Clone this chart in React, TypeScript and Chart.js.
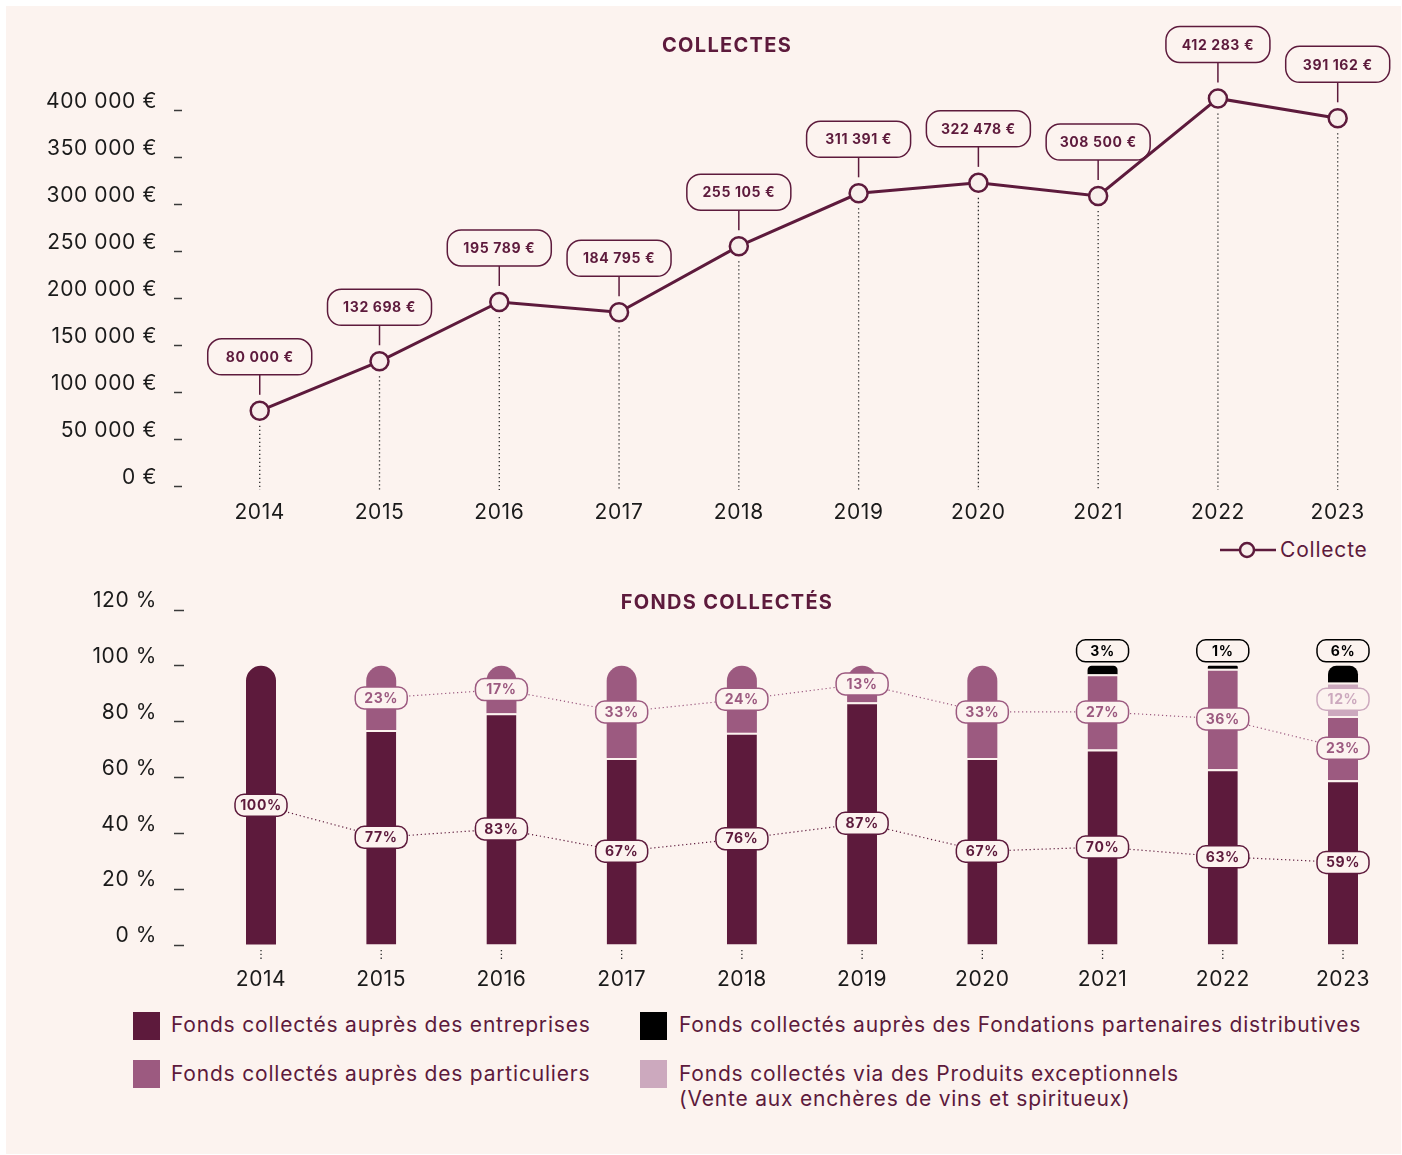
import React, { useEffect, useRef } from 'react';
import { Chart, registerables } from 'chart.js';

Chart.register(...registerables);

// ---------- DATA ----------
const years = [2014, 2015, 2016, 2017, 2018, 2019, 2020, 2021, 2022, 2023];
const collecte = [80000, 132698, 195789, 184795, 255105, 311391, 322478, 308500, 412283, 391162];
const euroTicks = [0, 50000, 100000, 150000, 200000, 250000, 300000, 350000, 400000];

const entreprises = [100, 77, 83, 67, 76, 87, 67, 70, 63, 59];
const particuliers = [0, 23, 17, 33, 24, 13, 33, 27, 36, 23];
const produits = [0, 0, 0, 0, 0, 0, 0, 0, 0, 12];
const fondations = [0, 0, 0, 0, 0, 0, 0, 3, 1, 6];
const percentTicks = [0, 20, 40, 60, 80, 100, 120];

const seriesNames = [
  'Fonds collectés auprès des entreprises',
  'Fonds collectés auprès des particuliers',
  'Fonds collectés via des Produits exceptionnels',
  'Fonds collectés auprès des Fondations partenaires distributives',
];
const produitsNote = '(Vente aux enchères de vins et spiritueux)';
const topTitle = 'COLLECTES';
const bottomTitle = 'FONDS COLLECTÉS';
const lineLabel = 'Collecte';

// ---------- STYLE ----------
const DARK = '#5d1a3c';
const MED = '#9c5a80';
const LIGHT = '#cca9be';
const BLACK = '#000000';
const BG = '#fcf3ef';
const POINT_FILL = '#f8eeeb';
const AXIS_TEXT = '#1a1a1a';
const FONT = "Inter, 'Noto Sans', sans-serif";
const CANVAS_SPACING = '0.6px';

const fmtEuro = (v: number) => String(v).replace(/\B(?=(\d{3})+(?!\d))/g, ' ') + ' €';

const series = [entreprises, particuliers, produits, fondations];
const seriesColors = [DARK, MED, LIGHT, BLACK];

const X_MIN = 2013.351;
const X_MAX = 2023.4325;

// ---------- PLUGINS ----------
const spacingPlugin = {
  id: 'spacing',
  beforeDraw(chart: any) {
    chart.ctx.letterSpacing = CANVAS_SPACING;
  },
};

const topLabelsPlugin = {
  id: 'topLabels',
  beforeDatasetsDraw(chart: any) {
    const { ctx, chartArea } = chart;
    const meta = chart.getDatasetMeta(0);
    ctx.save();
    meta.data.forEach((pt: any, i: number) => {
      const x = pt.x;
      const y = pt.y;
      // dotted drop line
      ctx.strokeStyle = '#2b2b2b';
      ctx.lineWidth = 1.3;
      ctx.setLineDash([1.3, 2.7]);
      ctx.beginPath();
      ctx.moveTo(x, y + 15);
      ctx.lineTo(x, chartArea.bottom + 4);
      ctx.stroke();
      ctx.setLineDash([]);
      // connector
      ctx.strokeStyle = DARK;
      ctx.lineWidth = 1.5;
      ctx.beginPath();
      ctx.moveTo(x, y - 16);
      ctx.lineTo(x, y - 36);
      ctx.stroke();
      // box
      ctx.beginPath();
      ctx.roundRect(x - 52, y - 72, 104, 36, 14);
      ctx.fillStyle = BG;
      ctx.fill();
      ctx.stroke();
      ctx.fillStyle = DARK;
      ctx.font = `bold 14px ${FONT}`;
      ctx.textAlign = 'center';
      ctx.textBaseline = 'middle';
      ctx.fillText(fmtEuro(collecte[i]), x, y - 53);
    });
    ctx.restore();
  },
};

const bottomLabelsPlugin = {
  id: 'bottomLabels',
  afterDatasetsDraw(chart: any) {
    const { ctx, chartArea, scales } = chart;
    ctx.save();
    // dotted ticks under bars
    ctx.strokeStyle = '#2b2b2b';
    ctx.lineWidth = 1.3;
    ctx.setLineDash([1.3, 2.5]);
    years.forEach((yr) => {
      const x = scales.x.getPixelForValue(yr);
      ctx.beginPath();
      ctx.moveTo(x, chartArea.bottom + 5);
      ctx.lineTo(x, chartArea.bottom + 15);
      ctx.stroke();
    });
    // dotted connecting lines
    [0, 1].forEach((d) => {
      const meta = chart.getDatasetMeta(d);
      const pts: { x: number; y: number }[] = [];
      meta.data.forEach((el: any, i: number) => {
        if (series[d][i] > 0) pts.push({ x: el.x, y: (el.y + el.base) / 2 });
      });
      ctx.strokeStyle = seriesColors[d];
      ctx.lineWidth = 1.2;
      ctx.setLineDash([1.2, 2.8]);
      ctx.beginPath();
      pts.forEach((p, k) => (k === 0 ? ctx.moveTo(p.x, p.y) : ctx.lineTo(p.x, p.y)));
      ctx.stroke();
    });
    ctx.setLineDash([]);
    // boxes
    ctx.font = `bold 14px ${FONT}`;
    ctx.textAlign = 'center';
    ctx.textBaseline = 'middle';
    for (let d = 0; d < series.length; d++) {
      const meta = chart.getDatasetMeta(d);
      meta.data.forEach((el: any, i: number) => {
        const v = series[d][i];
        if (!(v > 0)) return;
        const cx = el.x;
        const cy = d === 3 ? el.y - 15 : (el.y + el.base) / 2;
        ctx.beginPath();
        ctx.roundRect(cx - 26, cy - 11, 52, 22, 9);
        ctx.fillStyle = BG;
        ctx.fill();
        ctx.lineWidth = 1.5;
        ctx.strokeStyle = seriesColors[d];
        ctx.stroke();
        ctx.fillStyle = seriesColors[d];
        ctx.fillText(`${v}%`, cx, cy + 0.5);
      });
    }
    ctx.restore();
  },
};

// ---------- APP ----------
export default function App() {
  const topRef = useRef<HTMLCanvasElement>(null);
  const botRef = useRef<HTMLCanvasElement>(null);

  useEffect(() => {
    const tickFont = { family: FONT, size: 21 };

    const top = new Chart(topRef.current as HTMLCanvasElement, {
      type: 'line',
      data: {
        datasets: [
          {
            label: lineLabel,
            data: years.map((yr, i) => ({ x: yr, y: collecte[i] })),
            borderColor: DARK,
            borderWidth: 3,
            pointRadius: 9,
            pointBorderWidth: 2.5,
            pointBackgroundColor: POINT_FILL,
            pointBorderColor: DARK,
            tension: 0,
          },
        ],
      },
      options: {
        animation: false,
        responsive: false,
        maintainAspectRatio: false,
        layout: { padding: { left: 0, right: 6, top: 66.4, bottom: 0 } },
        plugins: { legend: { display: false }, tooltip: { enabled: false }, title: { display: false } },
        scales: {
          x: {
            type: 'linear',
            offset: false,
            min: X_MIN,
            max: X_MAX,
            afterBuildTicks: (s: any) => {
              s.ticks = years.map((v) => ({ value: v }));
            },
            ticks: { callback: (v: any) => String(v), font: tickFont, color: AXIS_TEXT, padding: 14, maxRotation: 0, autoSkip: false },
            grid: { display: false, drawTicks: false },
            border: { display: false },
            afterFit: (s: any) => {
              s.height = 50;
            },
          },
          y: {
            min: 0,
            max: 440000,
            afterBuildTicks: (s: any) => {
              s.ticks = euroTicks.map((v) => ({ value: v }));
            },
            ticks: { callback: (v: any) => fmtEuro(Number(v)), font: tickFont, color: AXIS_TEXT, padding: 17, labelOffset: -8 },
            grid: { drawOnChartArea: false, drawTicks: true, tickLength: 8, tickColor: '#3a3a3a', tickWidth: 1.5 },
            border: { display: false },
            afterFit: (s: any) => {
              s.width = 176;
            },
          },
        },
      },
      plugins: [spacingPlugin, topLabelsPlugin],
    } as any);

    const bot = new Chart(botRef.current as HTMLCanvasElement, {
      type: 'bar',
      data: {
        datasets: series.map((arr, d) => ({
          label: seriesNames[d],
          data: years.map((yr, i) => ({ x: yr, y: arr[i] > 0 ? arr[i] : null })),
          backgroundColor: seriesColors[d],
          borderColor: BG,
          borderWidth: (c: any) => {
            const i = c.dataIndex;
            const above = series.slice(d + 1).some((s) => s[i] > 0);
            return above ? { top: 2, left: 0, right: 0, bottom: 0 } : 0;
          },
          borderSkipped: 'start',
          borderRadius: 15,
          barThickness: 30,
          inflateAmount: 0,
        })),
      },
      options: {
        animation: false,
        responsive: false,
        maintainAspectRatio: false,
        layout: { padding: { left: 0, right: 6, top: 30, bottom: 0 } },
        plugins: { legend: { display: false }, tooltip: { enabled: false }, title: { display: false } },
        scales: {
          x: {
            type: 'linear',
            stacked: true,
            offset: false,
            min: X_MIN + 0.0085,
            max: X_MAX,
            afterBuildTicks: (s: any) => {
              s.ticks = years.map((v) => ({ value: v }));
            },
            ticks: { callback: (v: any) => String(v), font: tickFont, color: AXIS_TEXT, padding: 22, maxRotation: 0, autoSkip: false },
            grid: { display: false, drawTicks: false, offset: false },
            border: { display: false },
            afterFit: (s: any) => {
              s.height = 50;
            },
          },
          y: {
            stacked: true,
            min: 0,
            max: 120,
            afterBuildTicks: (s: any) => {
              s.ticks = percentTicks.map((v) => ({ value: v }));
            },
            ticks: { callback: (v: any) => `${v} %`, font: tickFont, color: AXIS_TEXT, padding: 17, labelOffset: -9 },
            grid: { drawOnChartArea: false, drawTicks: true, tickLength: 10, tickColor: '#3a3a3a', tickWidth: 1.5 },
            border: { display: false },
            afterFit: (s: any) => {
              s.width = 178;
            },
          },
        },
      },
      plugins: [spacingPlugin, bottomLabelsPlugin],
    } as any);

    return () => {
      top.destroy();
      bot.destroy();
    };
  }, []);

  const legendText: React.CSSProperties = {
    position: 'absolute',
    color: DARK,
    fontSize: 21,
    letterSpacing: '0.8px',
    lineHeight: '25px',
    whiteSpace: 'nowrap',
  };
  const sq = (left: number, top: number, color: string): React.CSSProperties => ({
    position: 'absolute',
    left,
    top,
    width: 27,
    height: 28,
    background: color,
  });
  const titleStyle = (top: number): React.CSSProperties => ({
    position: 'absolute',
    left: 721,
    top,
    transform: 'translateX(-50%)',
    color: DARK,
    fontWeight: 700,
    fontSize: 20,
    letterSpacing: '1.3px',
    lineHeight: '24px',
    whiteSpace: 'nowrap',
  });

  return (
    <div
      style={{
        position: 'absolute',
        left: 6,
        top: 6,
        width: 1395,
        height: 1148,
        background: BG,
        fontFamily: FONT,
        overflow: 'hidden',
      }}
    >
      <canvas ref={topRef} width={1395} height={530} style={{ position: 'absolute', left: 0, top: 0, display: 'block' }} />
      <canvas ref={botRef} width={1395} height={415} style={{ position: 'absolute', left: 0, top: 574, display: 'block' }} />

      <div style={titleStyle(27)}>{topTitle}</div>
      <div style={titleStyle(584)}>{bottomTitle}</div>

      {/* line legend */}
      <svg width={62} height={24} style={{ position: 'absolute', left: 1212, top: 532 }}>
        <line x1={2} y1={12} x2={58} y2={12} stroke={DARK} strokeWidth={2.5} />
        <circle cx={29} cy={12} r={7} fill={POINT_FILL} stroke={DARK} strokeWidth={2.5} />
      </svg>
      <div style={{ ...legendText, left: 1274, top: 531 }}>{lineLabel}</div>

      {/* bar legend */}
      <div style={sq(127, 1006, seriesColors[0])} />
      <div style={{ ...legendText, left: 165, top: 1006 }}>{seriesNames[0]}</div>
      <div style={sq(127, 1054, seriesColors[1])} />
      <div style={{ ...legendText, left: 165, top: 1055 }}>{seriesNames[1]}</div>
      <div style={sq(634, 1006, seriesColors[3])} />
      <div style={{ ...legendText, left: 673, top: 1006 }}>{seriesNames[3]}</div>
      <div style={sq(634, 1054, seriesColors[2])} />
      <div style={{ ...legendText, left: 673, top: 1055 }}>
        {seriesNames[2]}
        <br />
        {produitsNote}
      </div>
    </div>
  );
}
